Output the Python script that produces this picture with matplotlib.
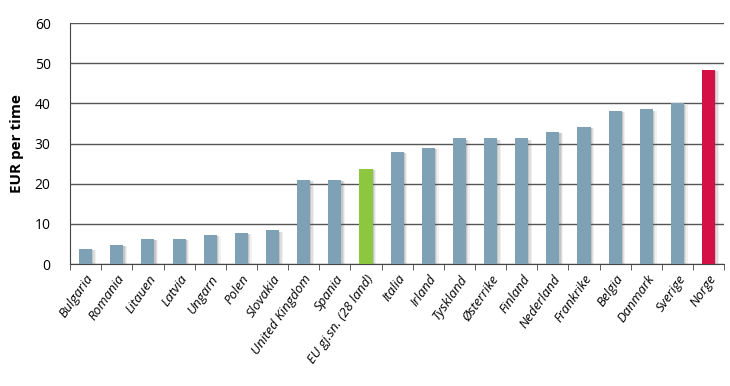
import numpy as np
import matplotlib.pyplot as plt
from matplotlib.ticker import FixedLocator

# data
land = ['Bulgaria', 'Romania', 'Litauen', 'Latvia', 'Ungarn', 'Polen', 'Slovakia',
        'United Kingdom', 'Spania', 'EU gj.sn. (28 land)', 'Italia', 'Irland',
        'Tyskland', 'Østerrike', 'Finland', 'Nederland', 'Frankrike', 'Belgia',
        'Danmark', 'Sverige', 'Norge']
eur = [3.7, 4.7, 6.2, 6.2, 7.3, 7.7, 8.4, 21.0, 21.0, 23.6, 28.0, 29.0,
       31.3, 31.3, 31.3, 33.0, 34.2, 38.2, 38.5, 40.0, 48.4]

blue = '#7fa1b5'
colors = [blue] * len(land)
colors[land.index('EU gj.sn. (28 land)')] = '#8dc63f'
colors[land.index('Norge')] = '#d31145'

plt.rcParams['font.family'] = ['Open Sans', 'DejaVu Sans']

fig = plt.figure(figsize=(7.3, 3.86), dpi=100)
ax = fig.add_axes([0.096, 0.316, 0.896, 0.624])

x = np.arange(len(land))
# soft shadow behind the bars
for k, a in [(0.12, 0.08), (0.08, 0.12), (0.04, 0.18)]:
    ax.bar(x + k, np.array(eur) - 0.3, width=0.42, bottom=0, color='#555555',
           alpha=a, linewidth=0, zorder=2)
ax.bar(x, eur, width=0.42, color=colors, linewidth=0, zorder=3)

ax.set_xlim(-0.5, len(land) - 0.5)
ax.set_ylim(0, 60)
ax.set_yticks(range(0, 61, 10))
ax.yaxis.grid(True, color='#555555', linewidth=1.0, zorder=0)
ax.set_axisbelow(True)

ax.set_xticks(x)
ax.set_xticklabels(land, rotation=55, ha='right', rotation_mode='anchor',
                   style='italic', fontsize=9.5)
ax.tick_params(axis='x', length=0, pad=6)
ax.xaxis.set_minor_locator(FixedLocator(np.arange(-0.5, len(land), 1)))
ax.tick_params(axis='x', which='minor', length=4, color='#444444', direction='out')
ax.tick_params(axis='y', length=0, labelsize=10, pad=14)

ax.spines['top'].set_visible(False)
ax.spines['right'].set_visible(False)
ax.spines['left'].set_color('#444444')
ax.spines['bottom'].set_color('#444444')

ax.set_ylabel('EUR per time', fontsize=11, fontweight='bold', labelpad=8)

plt.savefig('out.png', dpi=100)
